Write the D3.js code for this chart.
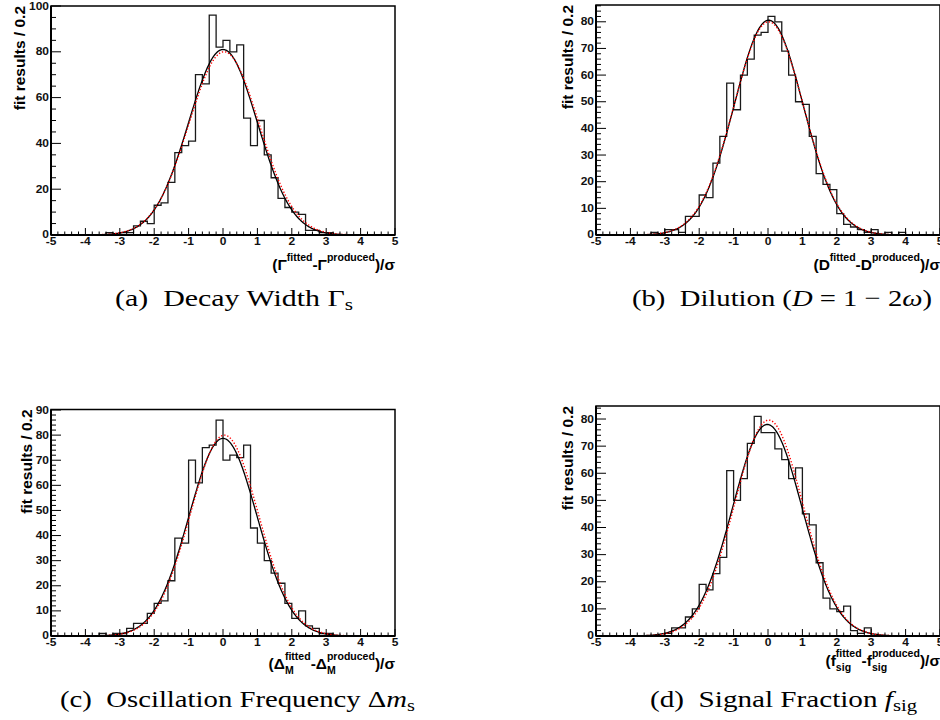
<!DOCTYPE html>
<html>
<head>
<meta charset="utf-8">
<script src="https://cdn.jsdelivr.net/npm/d3@7"></script>
<style>
  body { margin: 0; background: #fff; }
  svg { display: block; }
</style>
</head>
<body>
<svg id="fig" width="940" height="720"></svg>
<script>
// pull distributions, 50 bins of 0.2 from -5 to 5
const binStart = -5;
const binWidth = 0.2;
const xTickValues = [-5, -4, -3, -2, -1, 0, 1, 2, 3, 4, 5];

const widthCounts = [0,0,0,0,0, 0,0,0,1,0, 1,1,4,6,5, 13,14,23,36,39,
  41,70,66,96,82, 85,80,83,51,39, 50,35,25,16,12, 10,9,2,2,1, 1,0,0,0,0, 0,0,0,0,0];
const dilutionCounts = [0,0,0,0,0, 0,0,0,1,0, 2,2,1,7,7, 15,14,27,37,57,
  47,60,66,75,76, 82,80,69,60,50, 49,37,23,19,17, 8,4,3,2,1, 2,0,1,0,1, 0,0,0,0,0];
const oscCounts = [0,0,0,0,0, 0,0,1,0,1, 1,3,5,5,9, 13,14,22,39,37,
  70,61,75,76,86, 70,72,71,76,43, 37,30,25,21,13, 7,10,4,3,1, 1,0,0,0,0, 0,0,0,0,0];
const fractionCounts = [0,0,0,0,0, 0,0,0,0,0, 1,3,3,7,10, 19,17,23,29,61,
  50,58,71,81,75, 75,69,65,58,62, 45,41,27,14,10, 9,11,2,1,3, 0,0,0,0,0, 0,0,0,0,0];

// gaussian fits: [height, mean, sigma]
const fitSolid = [[81, 0.0, 1.0], [80.6, 0.02, 1.0], [78.7, 0.0, 0.99], [78, -0.02, 1.01]];
const fitDotted = [[80, 0.03, 1.02], [80, 0.02, 1.01], [80, 0.04, 0.99], [79.6, 0.02, 1.0]];

const yMaxima = [100, 86.3, 90.2, 84.8];
const yMajorStep = [20, 10, 10, 10];
const yMinorStep = [5, 2, 2, 2];

const axisTitles = [
  [{t: "(\u0393"}, {t: "fitted", pos: "sup"}, {t: "-\u0393"}, {t: "produced", pos: "sup"}, {t: ")/\u03c3"}],
  [{t: "(D"}, {t: "fitted", pos: "sup"}, {t: "-D"}, {t: "produced", pos: "sup"}, {t: ")/\u03c3"}],
  [{t: "(\u0394"}, {t: "fitted", pos: "sup"}, {t: "M", pos: "sub", stack: true}, {t: "-\u0394"},
   {t: "produced", pos: "sup"}, {t: "M", pos: "sub", stack: true}, {t: ")/\u03c3"}],
  [{t: "(f"}, {t: "fitted", pos: "sup"}, {t: "sig", pos: "sub", stack: true}, {t: "-f"},
   {t: "produced", pos: "sup"}, {t: "sig", pos: "sub", stack: true}, {t: ")/\u03c3"}]
];

const captions = [
  [{t: "(a)\u00a0\u00a0Decay Width \u0393"}, {t: "s", sub: true}],
  [{t: "(b)\u00a0\u00a0Dilution ("}, {t: "D", it: true}, {t: " = 1 \u2212 2"}, {t: "\u03c9", it: true}, {t: ")"}],
  [{t: "(c)\u00a0\u00a0Oscillation Frequency \u0394"}, {t: "m", it: true}, {t: "s", sub: true}],
  [{t: "(d)\u00a0\u00a0Signal Fraction "}, {t: "f", it: true}, {t: "sig", sub: true}]
];

const yTitle = "fit results / 0.2";

// frame geometry of each pad
const layout = [
  {left: 51, right: 395, top: 6, bottom: 235, titleOff: 26, capX: 115, capW: 238, capY: 306, titleY: 270},
  {left: 596, right: 940, top: 5, bottom: 235, titleOff: 23, capX: 632, capW: 300, capY: 306, titleY: 270},
  {left: 51, right: 395, top: 409.5, bottom: 636, titleOff: 19, capX: 60, capW: 355, capY: 707, titleY: 669},
  {left: 596, right: 940, top: 406, bottom: 636, titleOff: 23, capX: 650, capW: 267, capY: 707, titleY: 666}
];

const allCounts = [widthCounts, dilutionCounts, oscCounts, fractionCounts];
const svg = d3.select("#fig");
const sans = "'Liberation Sans', Arial, Helvetica, sans-serif";

function gauss(p, x) {
  return p[0] * Math.exp(-0.5 * Math.pow((x - p[1]) / p[2], 2));
}

function drawRuns(g, runs, xRight, baseline, size) {
  const t = g.append("g").attr("font-family", sans).attr("font-weight", "bold");
  let x = 0, lastX = 0;
  runs.forEach(r => {
    const fs = r.pos ? size * 0.68 : size;
    const dy = r.pos === "sup" ? -9 : r.pos === "sub" ? 5 : 0;
    const x0 = r.stack ? lastX : x;
    const el = t.append("text").attr("x", x0).attr("y", baseline + dy)
      .attr("font-size", fs).text(r.t);
    const w = el.node().getComputedTextLength();
    if (r.stack) {
      x = Math.max(x, x0 + w);
    } else {
      lastX = x0;
      x = x0 + w;
    }
  });
  t.attr("transform", `translate(${xRight - x},0)`);
}

allCounts.forEach((counts, k) => {
  const L = layout[k];
  const g = svg.append("g");

  const x = d3.scaleLinear().domain([-5, 5]).range([L.left, L.right]);
  const y = d3.scaleLinear().domain([0, yMaxima[k]]).range([L.bottom, L.top]);

  // frame
  g.append("rect")
    .attr("x", L.left).attr("y", L.top)
    .attr("width", L.right - L.left).attr("height", L.bottom - L.top)
    .attr("fill", "none").attr("stroke", "#000").attr("stroke-width", 1.5);

  // histogram
  const pts = counts.map((c, i) => [binStart + i * binWidth, c]);
  pts.push([binStart + counts.length * binWidth, counts[counts.length - 1]]);
  const step = d3.line().x(d => x(d[0])).y(d => y(d[1])).curve(d3.curveStepAfter);
  g.append("path").attr("d", step(pts))
    .attr("fill", "none").attr("stroke", "#1a1a1a").attr("stroke-width", 1.3);

  // fits
  const xs = d3.range(-5, 5.0001, 0.02);
  const line = d3.line().x(d => x(d)).y(d => y(Math.min(gauss(fitSolid[k], d), yMaxima[k])));
  g.append("path").attr("d", line(xs))
    .attr("fill", "none").attr("stroke", "#000").attr("stroke-width", 1.3);
  const line2 = d3.line().x(d => x(d)).y(d => y(gauss(fitDotted[k], d)));
  g.append("path").attr("d", line2(xs))
    .attr("fill", "none").attr("stroke", "#ff0000").attr("stroke-width", 1.4)
    .attr("stroke-dasharray", "1.3 1.9");

  // x axis ticks (inside, pointing up)
  const xMinor = d3.range(-5, 5.0001, binWidth);
  g.append("g").selectAll("line").data(xMinor).join("line")
    .attr("x1", d => x(d)).attr("x2", d => x(d))
    .attr("y1", L.bottom).attr("y2", d => {
      const major = Math.abs(d - Math.round(d)) < 1e-6;
      return L.bottom - (major ? 7 : 3.5);
    })
    .attr("stroke", "#000").attr("stroke-width", 1);
  g.append("g").selectAll("text").data(xTickValues).join("text")
    .attr("transform", d => `translate(${x(d)},${L.bottom + 10}) scale(1.2,1)`)
    .attr("text-anchor", "middle")
    .attr("font-family", sans).attr("font-weight", "bold").attr("font-size", 10)
    .attr("fill", "#111")
    .text(d => d);

  // y axis ticks (inside, pointing right)
  const yMinor = d3.range(0, yMaxima[k] + 1e-6, yMinorStep[k]);
  g.append("g").selectAll("line").data(yMinor).join("line")
    .attr("y1", d => y(d)).attr("y2", d => y(d))
    .attr("x1", L.left).attr("x2", d => {
      const major = Math.abs(d / yMajorStep[k] - Math.round(d / yMajorStep[k])) < 1e-6;
      return L.left + (major ? 10 : 5);
    })
    .attr("stroke", "#000").attr("stroke-width", 1);
  const yMajor = d3.range(0, yMaxima[k] + 1e-6, yMajorStep[k]);
  g.append("g").selectAll("text").data(yMajor).join("text")
    .attr("transform", d => `translate(${L.left - 2},${y(d) + (d === 0 ? 2.5 : 3.5)}) scale(1.2,1)`)
    .attr("text-anchor", "end")
    .attr("font-family", sans).attr("font-weight", "bold").attr("font-size", 10)
    .attr("fill", "#111")
    .text(d => d);

  // axis lines
  g.append("line").attr("x1", L.left).attr("x2", L.left).attr("y1", L.top).attr("y2", L.bottom)
    .attr("stroke", "#000").attr("stroke-width", 2);
  g.append("line").attr("x1", L.left).attr("x2", L.right).attr("y1", L.bottom).attr("y2", L.bottom)
    .attr("stroke", "#000").attr("stroke-width", 2);

  // y title
  g.append("text")
    .attr("transform", `translate(${L.left - L.titleOff},${L.top}) rotate(-90)`)
    .attr("text-anchor", "end")
    .attr("font-family", sans).attr("font-weight", "bold").attr("font-size", 15.5)
    .text(yTitle);

  // x title
  drawRuns(g, axisTitles[k], L.right, L.titleY, 15.5);

  // caption
  const cap = g.append("text")
    .attr("x", L.capX).attr("y", L.capY)
    .attr("font-family", "'Liberation Serif', 'Times New Roman', serif")
    .attr("font-size", 24)
    .attr("textLength", L.capW).attr("lengthAdjust", "spacingAndGlyphs");
  captions[k].forEach(r => {
    const ts = cap.append("tspan").text(r.t);
    if (r.it) ts.attr("font-style", "italic");
    if (r.sub) ts.attr("font-size", 17).attr("baseline-shift", "-22%");
  });
});
</script>
</body>
</html>
